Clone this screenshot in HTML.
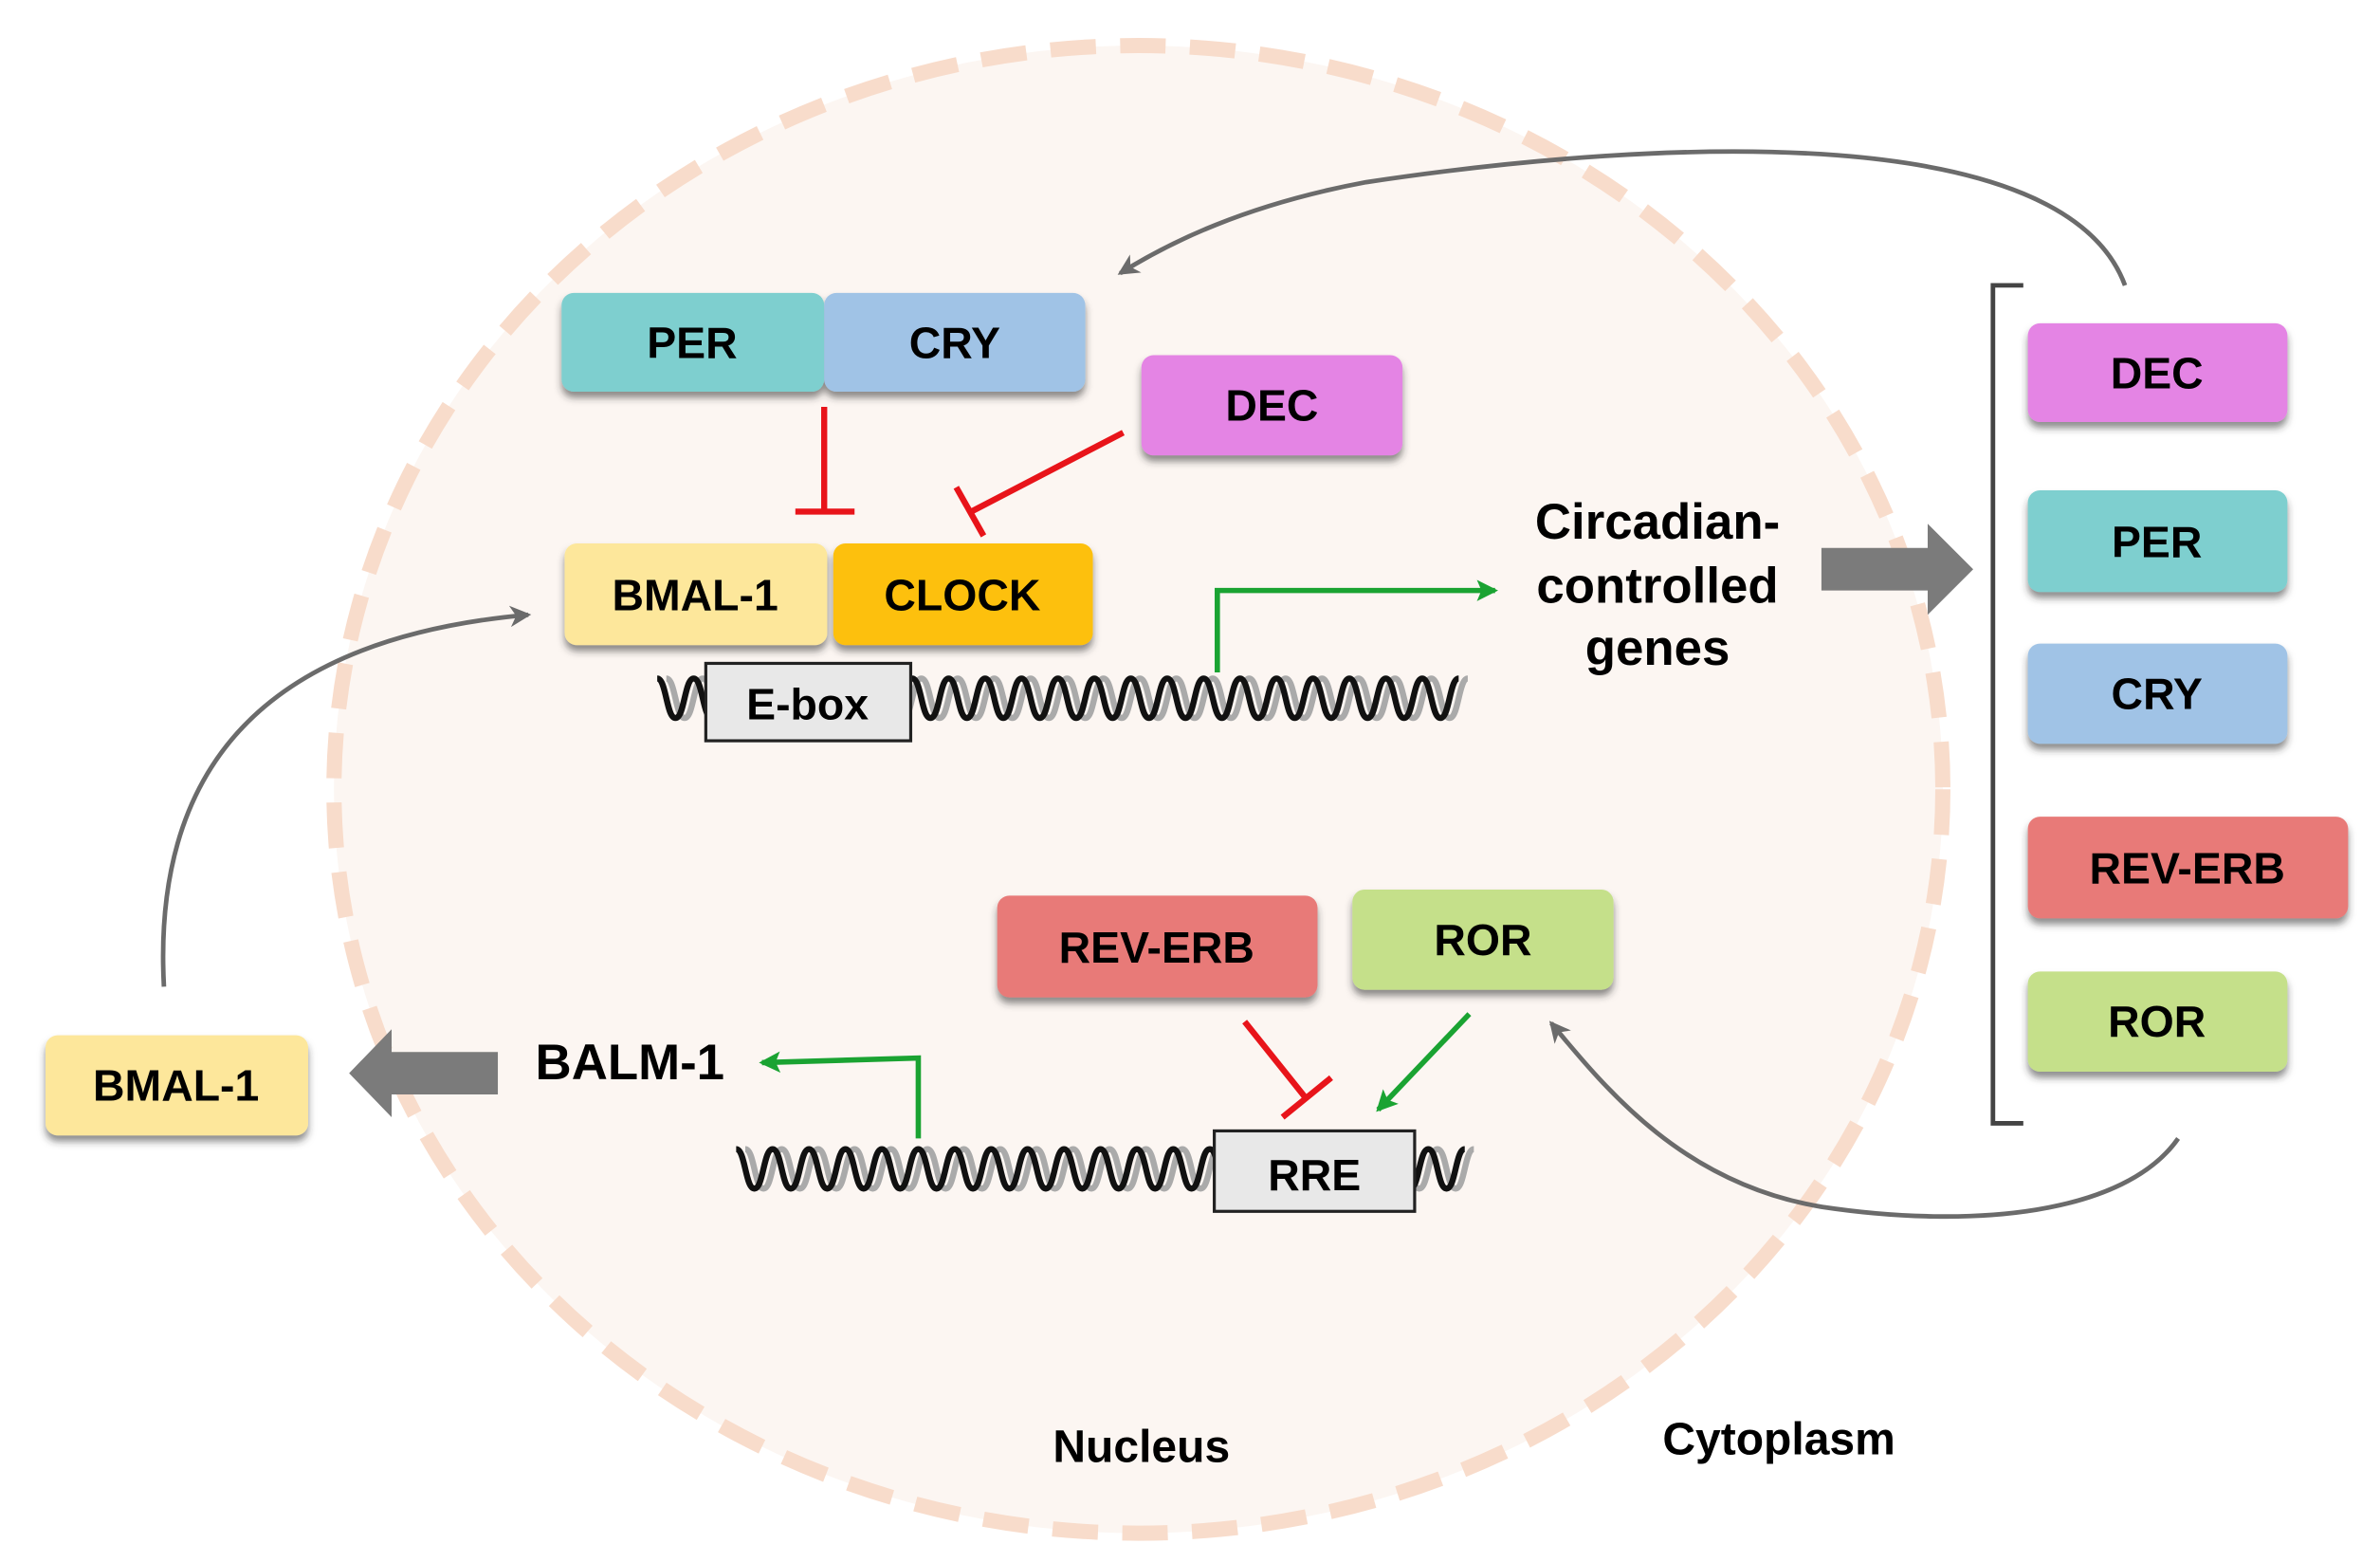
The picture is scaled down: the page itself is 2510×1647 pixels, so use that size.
<!DOCTYPE html>
<html><head><meta charset="utf-8"><style>
html,body{margin:0;padding:0;background:#fff}
svg{display:block}
text{font-family:"Liberation Sans",Arial,sans-serif;font-weight:bold;fill:#000}
</style></head><body>
<svg width="2510" height="1647" viewBox="0 0 1568 1029" preserveAspectRatio="none" xmlns="http://www.w3.org/2000/svg">
<defs>
<filter id="sh" x="-10%" y="-10%" width="120%" height="140%"><feDropShadow dx="0" dy="4" stdDeviation="2.5" flood-color="#333" flood-opacity="0.55"/></filter>
<marker id="gy" markerWidth="16" markerHeight="16" refX="12" refY="8" orient="auto" markerUnits="userSpaceOnUse" viewBox="0 0 16 16"><path d="M0,1 L14,8 L0,15 L4,8 z" fill="#6b6b6b"/></marker>
<marker id="gg" markerWidth="14" markerHeight="14" refX="12" refY="7" orient="auto" markerUnits="userSpaceOnUse" viewBox="0 0 14 14"><path d="M0,0 L14,7 L0,14 L3,7 z" fill="#1aa332"/></marker>
</defs>
<ellipse cx="750" cy="520" rx="530" ry="490" fill="#fcf6f2" stroke="#f8dccb" stroke-width="10" stroke-dasharray="30 16"/>

<path d="M1400,188 C1360,80 1100,90 900,120 C820,135 770,160 738,180" fill="none" stroke="#6b6b6b" stroke-width="3" marker-end="url(#gy)"/>
<path d="M108,650 C100,500 180,420 348,405" fill="none" stroke="#6b6b6b" stroke-width="3" marker-end="url(#gy)"/>
<path d="M1435,750 C1400,800 1300,810 1200,795 C1110,780 1060,720 1022,674" fill="none" stroke="#6b6b6b" stroke-width="3" marker-end="url(#gy)"/>

<g filter="url(#sh)">
<rect x="370" y="193" width="173" height="65" rx="8" fill="#7ecfcf"/>
<rect x="543" y="193" width="172" height="65" rx="8" fill="#a0c3e6"/>
<rect x="752" y="234" width="172" height="66" rx="8" fill="#e484e4"/>
<rect x="372" y="358" width="173" height="67" rx="8" fill="#fde79b"/>
<rect x="549" y="358" width="171" height="67" rx="8" fill="#fdc00a"/>
<rect x="657" y="590" width="211" height="67" rx="8" fill="#e87a78"/>
<rect x="891" y="586" width="172" height="66" rx="8" fill="#c5e08a"/>
<rect x="30" y="682" width="173" height="66" rx="8" fill="#fde79b"/>
<rect x="1336" y="213" width="171" height="65" rx="8" fill="#e484e4"/>
<rect x="1336" y="323" width="171" height="67" rx="8" fill="#7ecfcf"/>
<rect x="1336" y="424" width="171" height="66" rx="8" fill="#a0c3e6"/>
<rect x="1336" y="538" width="211" height="67" rx="8" fill="#e87a78"/>
<rect x="1336" y="640" width="171" height="66" rx="8" fill="#c5e08a"/>
</g>
<g font-size="29" text-anchor="middle">
<text x="456" y="236">PER</text>
<text x="629" y="236">CRY</text>
<text x="838" y="277">DEC</text>
<text x="458" y="402">BMAL-1</text>
<text x="634" y="402">CLOCK</text>
<text x="762" y="634">REV-ERB</text>
<text x="977" y="629">ROR</text>
<text x="116" y="725">BMAL-1</text>
<text x="1421" y="256">DEC</text>
<text x="1421" y="367">PER</text>
<text x="1421" y="467">CRY</text>
<text x="1441" y="582">REV-ERB</text>
<text x="1421" y="683">ROR</text>
</g>

<g stroke="#e8141a" stroke-width="4" fill="none">
<line x1="543" y1="268" x2="543" y2="336"/><line x1="524" y1="337" x2="563" y2="337"/>
<line x1="740" y1="285" x2="640" y2="337"/><line x1="630" y1="321" x2="648" y2="353"/>
<line x1="820" y1="673" x2="860" y2="723"/><line x1="845" y1="736" x2="877" y2="710"/>
</g>

<g fill="none" stroke-width="4">
<path d="M433,447 c6,0 6,26 12,26 c6,0 6,-26 12,-26 c6,0 6,26 12,26 c6,0 6,-26 12,-26 c6,0 6,26 12,26 c6,0 6,-26 12,-26 c6,0 6,26 12,26 c6,0 6,-26 12,-26 c6,0 6,26 12,26 c6,0 6,-26 12,-26 c6,0 6,26 12,26 c6,0 6,-26 12,-26 c6,0 6,26 12,26 c6,0 6,-26 12,-26 c6,0 6,26 12,26 c6,0 6,-26 12,-26 c6,0 6,26 12,26 c6,0 6,-26 12,-26 c6,0 6,26 12,26 c6,0 6,-26 12,-26 c6,0 6,26 12,26 c6,0 6,-26 12,-26 c6,0 6,26 12,26 c6,0 6,-26 12,-26 c6,0 6,26 12,26 c6,0 6,-26 12,-26 c6,0 6,26 12,26 c6,0 6,-26 12,-26 c6,0 6,26 12,26 c6,0 6,-26 12,-26 c6,0 6,26 12,26 c6,0 6,-26 12,-26 c6,0 6,26 12,26 c6,0 6,-26 12,-26 c6,0 6,26 12,26 c6,0 6,-26 12,-26 c6,0 6,26 12,26 c6,0 6,-26 12,-26 c6,0 6,26 12,26 c6,0 6,-26 12,-26 c6,0 6,26 12,26 c6,0 6,-26 12,-26 c6,0 6,26 12,26 c6,0 6,-26 12,-26" stroke="#aaa" transform="translate(6,0)"/>
<path d="M433,447 c6,0 6,26 12,26 c6,0 6,-26 12,-26 c6,0 6,26 12,26 c6,0 6,-26 12,-26 c6,0 6,26 12,26 c6,0 6,-26 12,-26 c6,0 6,26 12,26 c6,0 6,-26 12,-26 c6,0 6,26 12,26 c6,0 6,-26 12,-26 c6,0 6,26 12,26 c6,0 6,-26 12,-26 c6,0 6,26 12,26 c6,0 6,-26 12,-26 c6,0 6,26 12,26 c6,0 6,-26 12,-26 c6,0 6,26 12,26 c6,0 6,-26 12,-26 c6,0 6,26 12,26 c6,0 6,-26 12,-26 c6,0 6,26 12,26 c6,0 6,-26 12,-26 c6,0 6,26 12,26 c6,0 6,-26 12,-26 c6,0 6,26 12,26 c6,0 6,-26 12,-26 c6,0 6,26 12,26 c6,0 6,-26 12,-26 c6,0 6,26 12,26 c6,0 6,-26 12,-26 c6,0 6,26 12,26 c6,0 6,-26 12,-26 c6,0 6,26 12,26 c6,0 6,-26 12,-26 c6,0 6,26 12,26 c6,0 6,-26 12,-26 c6,0 6,26 12,26 c6,0 6,-26 12,-26 c6,0 6,26 12,26 c6,0 6,-26 12,-26 c6,0 6,26 12,26 c6,0 6,-26 12,-26 c6,0 6,26 12,26 c6,0 6,-26 12,-26" stroke="#111"/>
<path d="M485,757 c6,0 6,26 12,26 c6,0 6,-26 12,-26 c6,0 6,26 12,26 c6,0 6,-26 12,-26 c6,0 6,26 12,26 c6,0 6,-26 12,-26 c6,0 6,26 12,26 c6,0 6,-26 12,-26 c6,0 6,26 12,26 c6,0 6,-26 12,-26 c6,0 6,26 12,26 c6,0 6,-26 12,-26 c6,0 6,26 12,26 c6,0 6,-26 12,-26 c6,0 6,26 12,26 c6,0 6,-26 12,-26 c6,0 6,26 12,26 c6,0 6,-26 12,-26 c6,0 6,26 12,26 c6,0 6,-26 12,-26 c6,0 6,26 12,26 c6,0 6,-26 12,-26 c6,0 6,26 12,26 c6,0 6,-26 12,-26 c6,0 6,26 12,26 c6,0 6,-26 12,-26 c6,0 6,26 12,26 c6,0 6,-26 12,-26 c6,0 6,26 12,26 c6,0 6,-26 12,-26 c6,0 6,26 12,26 c6,0 6,-26 12,-26 c6,0 6,26 12,26 c6,0 6,-26 12,-26 c6,0 6,26 12,26 c6,0 6,-26 12,-26 c6,0 6,26 12,26 c6,0 6,-26 12,-26 c6,0 6,26 12,26 c6,0 6,-26 12,-26" stroke="#aaa" transform="translate(6,0)"/>
<path d="M485,757 c6,0 6,26 12,26 c6,0 6,-26 12,-26 c6,0 6,26 12,26 c6,0 6,-26 12,-26 c6,0 6,26 12,26 c6,0 6,-26 12,-26 c6,0 6,26 12,26 c6,0 6,-26 12,-26 c6,0 6,26 12,26 c6,0 6,-26 12,-26 c6,0 6,26 12,26 c6,0 6,-26 12,-26 c6,0 6,26 12,26 c6,0 6,-26 12,-26 c6,0 6,26 12,26 c6,0 6,-26 12,-26 c6,0 6,26 12,26 c6,0 6,-26 12,-26 c6,0 6,26 12,26 c6,0 6,-26 12,-26 c6,0 6,26 12,26 c6,0 6,-26 12,-26 c6,0 6,26 12,26 c6,0 6,-26 12,-26 c6,0 6,26 12,26 c6,0 6,-26 12,-26 c6,0 6,26 12,26 c6,0 6,-26 12,-26 c6,0 6,26 12,26 c6,0 6,-26 12,-26 c6,0 6,26 12,26 c6,0 6,-26 12,-26 c6,0 6,26 12,26 c6,0 6,-26 12,-26 c6,0 6,26 12,26 c6,0 6,-26 12,-26 c6,0 6,26 12,26 c6,0 6,-26 12,-26 c6,0 6,26 12,26 c6,0 6,-26 12,-26" stroke="#111"/>
</g>
<rect x="465" y="437" width="135" height="51" fill="#e8e8e8" stroke="#222" stroke-width="2"/>
<text x="532" y="474" font-size="29" text-anchor="middle">E-box</text>
<rect x="800" y="745" width="132" height="53" fill="#e8e8e8" stroke="#222" stroke-width="2"/>
<text x="866" y="784" font-size="29" text-anchor="middle">RRE</text>

<g stroke="#1aa332" stroke-width="3.5" fill="none">
<polyline points="802,443 802,389 985,389" marker-end="url(#gg)"/>
<polyline points="605,750 605,697 502,700" marker-end="url(#gg)"/>
<line x1="968" y1="668" x2="908" y2="731" marker-end="url(#gg)"/>
</g>

<path d="M1200,361 L1270,361 L1270,345 L1300,375 L1270,405 L1270,389 L1200,389 z" fill="#7b7b7b"/>
<path d="M328,693 L258,693 L258,678 L230,707 L258,736 L258,721 L328,721 z" fill="#7b7b7b"/>

<polyline points="1333,188 1313,188 1313,740 1333,740" fill="none" stroke="#444" stroke-width="3"/>

<g font-size="33" text-anchor="middle">
<text x="1092" y="355">Circadian-</text>
<text x="1092" y="397">controlled</text>
<text x="1092" y="438">genes</text>
<text x="415" y="711">BALM-1</text>
</g>
<text x="752" y="963" font-size="30" text-anchor="middle">Nucleus</text>
<text x="1172" y="958" font-size="30" text-anchor="middle">Cytoplasm</text>
</svg>
</body></html>
